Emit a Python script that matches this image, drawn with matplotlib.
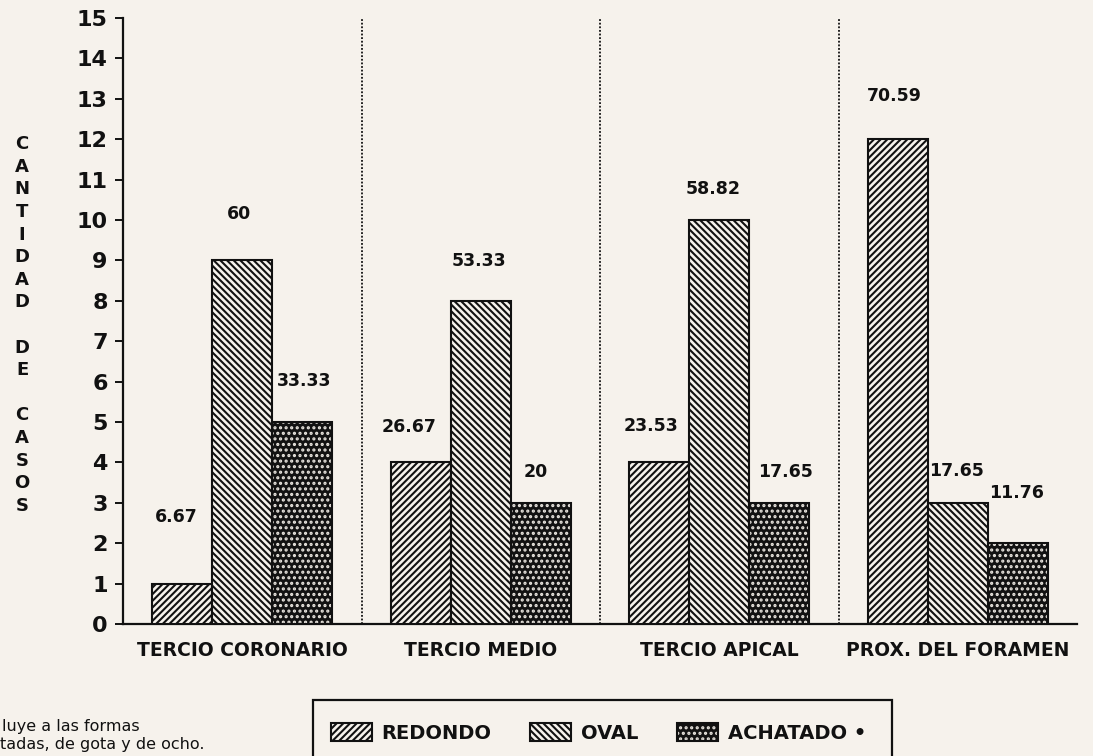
import numpy as np
import matplotlib
matplotlib.use("Agg")
import matplotlib.pyplot as plt
from matplotlib.patches import Patch, Rectangle

# ---- data ----
categories = ["TERCIO CORONARIO", "TERCIO MEDIO", "TERCIO APICAL", "PROX. DEL FORAMEN"]
series_names = ["REDONDO", "OVAL", "ACHATADO •"]
redondo = [1, 4, 4, 12]
oval = [9, 8, 10, 3]
achatado = [5, 3, 3, 2]
y_ticks = list(range(0, 16))
ylabel_words = ["CANTIDAD", "DE", "CASOS"]
note_lines = ["luye a las formas", "tadas, de gota y de ocho."]

# ---- layout / style ----
W, H = 1093, 756
paper = "#f6f2ec"
ink = "#111111"
dark = "#121212"
dot = "#e8e4de"
font = "DejaVu Sans"
hatch_red = "/////"
hatch_oval = "\\\\\\\\\\"
hatch_dots = "..."
# label offsets (pixels) from the top-centre of each bar: [group][series]
label_offsets = [
    [(-6, 67), (-3, 46), (2, 41)],
    [(-12, 35), (-2, 40), (-5, 31)],
    [(-8, 36), (-6, 31), (6, 31)],
    [(-3, 43), (-1, 32), (-1, 50)],
]

plt.rcParams["hatch.linewidth"] = 1.5
plt.rcParams["font.family"] = [font]

fig = plt.figure(figsize=(W / 100, H / 100), dpi=100, facecolor=paper)
ax = fig.add_axes([123 / W, 1 - 624 / H, (1077 - 123) / W, (624 - 18) / H])
ax.set_facecolor(paper)

x = np.arange(len(categories))
width = 0.252
offsets = [-width, 0.0, width]
series = [redondo, oval, achatado]

ax.bar(x + offsets[0], redondo, width, facecolor=paper, edgecolor=ink,
       hatch=hatch_red, linewidth=1.5, zorder=3)
ax.bar(x + offsets[1], oval, width, facecolor=paper, edgecolor=ink,
       hatch=hatch_oval, linewidth=1.5, zorder=3)
ax.bar(x + offsets[2], achatado, width, facecolor=dark, edgecolor=dot,
       hatch=hatch_dots, linewidth=0, zorder=3)
ax.bar(x + offsets[2], achatado, width, fill=False, edgecolor=ink,
       linewidth=1.5, zorder=4)

# percentage labels computed from the counts of each group
totals = [sum(v) for v in zip(*series)]
for s, vals in enumerate(series):
    for g, v in enumerate(vals):
        pct = round(100.0 * v / totals[g], 2)
        txt = f"{pct:.2f}".rstrip("0").rstrip(".")
        dx, dy = label_offsets[g][s]
        ax.annotate(txt, xy=(x[g] + offsets[s], v), xytext=(dx * 0.72, dy * 0.72),
                    textcoords="offset points", ha="center", va="center",
                    fontsize=12.5, fontweight="bold", color=ink, zorder=5)

# dotted separators between the groups
ax.vlines(x[:-1] + 0.5, 0, 15, colors=ink, linestyles=(0, (1, 1)), linewidth=1.3, zorder=2)

ax.set_xlim(-0.5, len(categories) - 0.5)
ax.set_ylim(0, 15)
ax.set_yticks(y_ticks)
ax.set_yticklabels([str(t) for t in y_ticks], fontsize=16, fontweight="heavy", color=ink)
ax.set_xticks(x)
ax.set_xticklabels(categories, fontsize=13.5, fontweight="heavy", color=ink)
ax.tick_params(axis="y", direction="out", length=6, width=1.4, pad=5, colors=ink)
ax.tick_params(axis="x", length=0, pad=12)
for side in ("top", "right"):
    ax.spines[side].set_visible(False)
for side in ("left", "bottom"):
    ax.spines[side].set_linewidth(1.6)
    ax.spines[side].set_color(ink)

# stacked vertical axis title
stacked = "\n\n".join("\n".join(w) for w in ylabel_words)
fig.text(22 / W, 1 - 325 / H, stacked, ha="center", va="center", fontsize=13,
         fontweight="heavy", linespacing=1.33, color=ink)

# legend inside a box running off the bottom edge
fig.patches.append(Rectangle((313 / W, -0.05), (892 - 313) / W, 0.05 + 56 / H,
                             transform=fig.transFigure, fill=False, edgecolor=ink,
                             linewidth=1.6))
h_red = Patch(facecolor=paper, edgecolor=ink, hatch=hatch_red, linewidth=1.5)
h_ova = Patch(facecolor=paper, edgecolor=ink, hatch=hatch_oval, linewidth=1.5)
h_ach = (Patch(facecolor=dark, edgecolor=dot, hatch=hatch_dots, linewidth=0),
         Patch(fill=False, edgecolor=ink, linewidth=1.5))
leg = fig.legend([h_red, h_ova, h_ach], series_names, ncol=3, loc="center left",
                 bbox_to_anchor=(331 / W, 1 - 733 / H), frameon=False, borderpad=0,
                 borderaxespad=0, handlelength=2.1, handleheight=1.0,
                 handletextpad=0.5, columnspacing=2.0,
                 prop={"family": font, "weight": "heavy", "size": 14})
for t in leg.get_texts():
    t.set_color(ink)

# footnote, partly cut by the left edge
fig.text(2 / W, 1 - 727 / H, note_lines[0], ha="left", va="center", fontsize=11.5,
         color=ink)
fig.text(0 / W, 1 - 745 / H, note_lines[1], ha="left", va="center", fontsize=11.5,
         color=ink)

fig.savefig("out.png", dpi=100, facecolor=paper)
